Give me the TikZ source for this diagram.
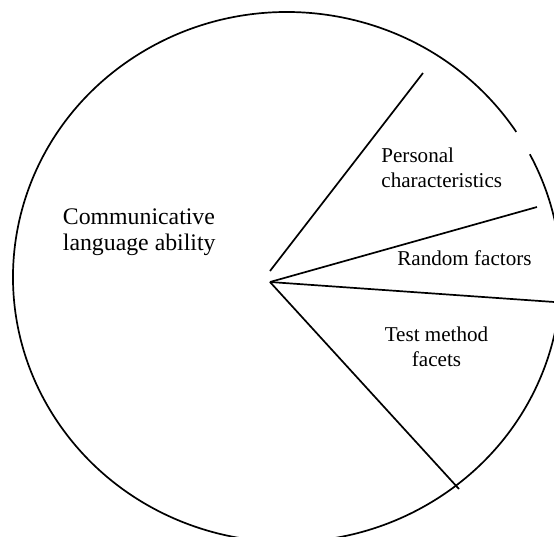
\documentclass[tikz,border=0pt]{standalone}
\usepackage{fontspec}
\setmainfont{Liberation Serif}
\begin{document}
\begin{tikzpicture}[x=0.5pt,y=0.5pt,
  bordo/.style={line width=0.85pt},
  raggio/.style={line width=0.85pt},
  settore/.style={font=\fontsize{10.55}{12.5}\selectfont,inner sep=0pt},
  abilita/.style={font=\fontsize{11.9}{13}\selectfont,inner sep=0pt,align=left}]
  \useasboundingbox (0,0) rectangle (554,-537);
  \clip (0,0) rectangle (554,-537);
  % Contorno ellittico, interrotto in alto a destra.
  \coordinate (ellisse) at (287,-277);
  \draw[bordo] (ellisse) ++(33.2:137pt and 132.5pt)
    arc[start angle=33.2,end angle=387.6,x radius=137pt,y radius=132.5pt];
  % Raggi che partono dal centro verso il bordo.
  \coordinate (centro) at (270,-282);
  \coordinate (attacco) at (270,-271);
  \coordinate (fineA) at (423,-73);
  \coordinate (fineB) at (537,-207);
  \coordinate (fineC) at (560,-302.4);
  \coordinate (fineD) at (459,-489);
  \draw[raggio] (attacco) -- (fineA);
  \foreach \fine in {fineB,fineC,fineD}{
    \draw[raggio] (centro) -- (\fine);
  }
  % Etichette dei settori.
  \node[abilita,anchor=north west] (lingua) at (62.5,-208.5) {Communicative\\language ability};
  \node[settore,align=left,anchor=north west] (personali) at (381,-147.3) {Personal\\characteristics};
  \node[settore,anchor=base west] (casuali) at (397,-265) {Random factors};
  \node[settore,align=center,anchor=north] (metodo) at (436.5,-326.3) {Test method\\facets};
\end{tikzpicture}
\end{document}
